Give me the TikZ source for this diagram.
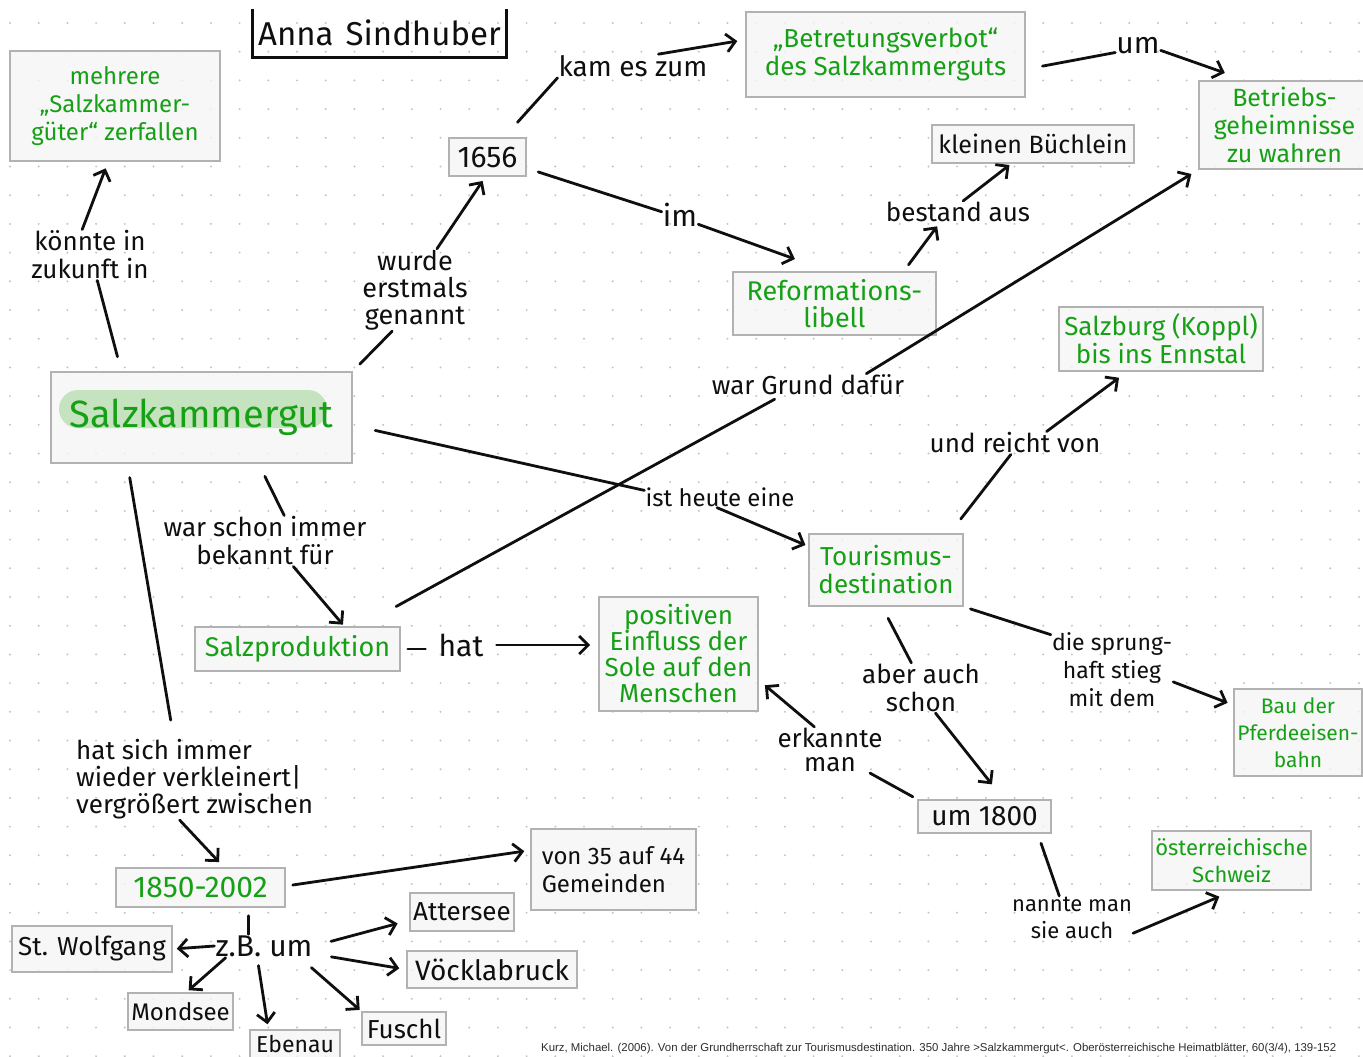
\documentclass[tikz,border=0pt]{standalone}
\usepackage{fontspec}
\setmainfont{Fira Sans}
\newfontfamily\citefont{Liberation Sans}
\usepackage{xcolor}
\usepackage{tikz}
\usetikzlibrary{arrows.meta,calc}

\definecolor{hwgreen}{RGB}{22,160,22}
\definecolor{hwblack}{RGB}{15,15,15}
\definecolor{boxfill}{RGB}{245,245,245}
\definecolor{boxline}{RGB}{178,178,178}
\definecolor{hlgreen}{RGB}{197,227,190}
\definecolor{dotgray}{RGB}{196,196,196}
\definecolor{citegray}{RGB}{45,45,45}

\newcommand{\hwf}[1]{\fontsize{#1}{28}\selectfont}

\tikzset{
  concept/.style={draw=boxline, line width=1.6pt, fill=boxfill, fill opacity=0.8, text opacity=1,
    text=hwgreen, align=center, inner sep=0pt, font=\hwf{26}},
  term/.style={concept, text=hwblack},
  rel/.style={align=center, inner sep=1pt, text=hwblack, font=\hwf{26}},
  link/.style={draw=hwblack, line width=2.8pt, line cap=round},
  linkto/.style={link, -{Straight Barb[length=9pt,width=18pt]}},
  frame/.style={draw=hwblack, line width=2.8pt}
}

\begin{document}
\begin{tikzpicture}[x=1pt,y=-1pt]
\fill[white] (0,0) rectangle (1363,1057);
\useasboundingbox (0,0) rectangle (1363,1057);

% dot grid
\foreach \i in {0,...,47}
  \foreach \j in {0,...,36}
    \fill[dotgray] ({10+28.7*\i},{23+28.7*\j}) circle (1.1);

% title
\node[rel, font=\hwf{33}, minimum width=253, minimum height=48] (title) at (379.5,33) {Anna\hspace{12pt}Sindhuber};
\draw[frame] (title.north west) -- (title.south west) -- (title.south east) -- (title.north east);

% boxes
\node[concept, minimum width=210, minimum height=110, font=\hwf{24}] (zerf) at (115,106) {mehrere\\„Salzkammer-\\güter“ zerfallen};
\node[concept, minimum width=301, minimum height=91, font=\hwf{38},
  path picture={\fill[hlgreen, fill opacity=1, rounded corners=19pt]
    ([shift={(8,18)}]path picture bounding box.north west) rectangle
    ([shift={(276,56)}]path picture bounding box.north west);}] (sk) at (201.5,417.5) {Salzkammergut};
\node[term, minimum width=77, minimum height=38, font=\hwf{30}] (y1656) at (487.5,157) {1656};
\node[concept, minimum width=279, minimum height=85] (verbot) at (885.5,54.5) {„Betretungsverbot“\\des Salzkammerguts};
\node[concept, minimum width=171, minimum height=88, font=\hwf{25}] (geheim) at (1284.5,125) {Betriebs-\\geheimnisse\\zu wahren};
\node[term, minimum width=202, minimum height=38, font=\hwf{25}] (buech) at (1033,144) {kleinen Büchlein};
\node[concept, minimum width=203, minimum height=63, font=\fontsize{27}{27}\selectfont] (reform) at (834.5,303.5) {Reformations-\\libell};
\node[concept, minimum width=204, minimum height=64] (salzbg) at (1161,339) {Salzburg (Koppl)\\bis ins Ennstal};
\node[concept, minimum width=205, minimum height=44, font=\hwf{27}] (prod) at (297.5,649) {Salzproduktion};
\node[concept, minimum width=159, minimum height=114, font=\fontsize{26}{26}\selectfont] (einfl) at (678.5,654) {positiven\\Einfluss der\\Sole auf den\\Menschen};
\node[concept, minimum width=154, minimum height=72] (tour) at (886,570) {Tourismus-\\destination};
\node[concept, minimum width=128, minimum height=87, font=\fontsize{21}{27}\selectfont] (bahn) at (1298,732.5) {Bau der\\Pferdeeisen-\\bahn};
\node[term, minimum width=133, minimum height=33, font=\hwf{28}] (um1800) at (984.5,816.5) {um 1800};
\node[concept, minimum width=159, minimum height=59, font=\fontsize{22}{27}\selectfont] (schweiz) at (1231.5,860.5) {österreichische\\Schweiz};
\node[concept, minimum width=169, minimum height=39, font=\hwf{30}] (jahre) at (200.5,887.5) {1850-2002};
\node[term, minimum width=165, minimum height=81, font=\hwf{24}, align=left] (gem) at (613.5,869.5) {von 35 auf 44\\Gemeinden};
\node[term, minimum width=104, minimum height=38] (atter) at (462,912) {Attersee};
\node[term, minimum width=170, minimum height=37, font=\hwf{28}] (voeck) at (492,969.5) {Vöcklabruck};
\node[term, minimum width=160, minimum height=46] (wolf) at (92,949) {St. Wolfgang};
\node[term, minimum width=105, minimum height=37, font=\hwf{24}] (mond) at (180.5,1011.5) {Mondsee};
\node[term, minimum width=90, minimum height=28, font=\hwf{23}] (eben) at (295,1044) {Ebenau};
\node[term, minimum width=84, minimum height=33] (fuschl) at (404,1028.5) {Fuschl};

% link words
\node[rel] (koennte) at (90,255) {könnte in\\zukunft in};
\node[rel, font=\fontsize{27}{27}\selectfont] (erstm) at (415,290) {wurde\\erstmals\\genannt};
\node[rel, font=\hwf{28}] (kam) at (633,66) {kam es zum};
\node[rel, font=\hwf{30}] (im) at (680,215) {im};
\node[rel] (bestand) at (958,212) {bestand aus};
\node[rel, font=\hwf{30}] (umw) at (1138,46) {um};
\node[rel] (grund) at (808,385) {war Grund dafür};
\node[rel, font=\hwf{24}] (heute) at (720,497) {ist heute eine};
\node[rel] (reicht) at (1015,443) {und reicht von};
\node[rel] (bekannt) at (265,541) {war schon immer\\bekannt für};
\node[rel, font=\hwf{30}] (hat) at (461,645) {hat};
\node[rel] (auch) at (921,688) {aber auch\\schon};
\node[rel, font=\fontsize{23}{28}\selectfont] (sprung) at (1112,670) {die sprung-\\haft stieg\\mit dem};
\node[rel, font=\fontsize{26}{24}\selectfont] (erkannt) at (830,750) {erkannte\\man};
\node[rel, font=\fontsize{22}{27}\selectfont] (nannte) at (1072,918) {nannte man\\sie auch};
\node[rel, align=left, font=\fontsize{26}{27}\selectfont, anchor=west] (zwischen) at (75,779) {hat sich immer\\wieder verkleinert|\\vergrößert zwischen};
\node[rel, font=\hwf{30}] (zb) at (264,946) {z.B. um};

% source
\node[anchor=west, inner sep=0pt, text=citegray, font=\citefont\fontsize{11.4}{13}\selectfont] (quelle) at (541,1049)
  {Kurz, Michael. (2006). Von der Grundherrschaft zur Tourismusdestination. 350 Jahre >Salzkammergut<. Oberösterreichische Heimatblätter, 60(3/4), 139-152};

% connectors
\draw[link, shorten <=15] (sk.150) -- (koennte.286);
\draw[linkto, shorten >=7] (koennte.107) -- (zerf.263);
\draw[link, shorten <=10] (sk.north east) -- (erstm.241);
\draw[linkto, shorten >=5] (erstm.62) -- (y1656.264);
\draw[link, shorten <=20] (y1656.50) -- (kam.south west);
\draw[linkto, shorten >=8] (kam.25) -- (verbot.174);
\draw[link, shorten <=12] (y1656.344) -- (im.170);
\draw[linkto, shorten >=36] (im.333) -- (reform.100);
\draw[linkto, shorten <=8, shorten >=4] (reform.25) -- (bestand.211);
\draw[linkto, shorten >=2] (bestand.65) -- (buech.222);
\draw[link, shorten <=17] (verbot.354) -- (umw.196);
\draw[linkto, shorten >=22] (umw.349) -- (geheim.131);
\draw[link, shorten <=41, shorten >=6] (prod.20) -- (grund.202);
\draw[linkto, shorten >=8] (grund.11) -- (geheim.south west);
\draw[link, shorten <=23] (sk.357) -- (heute.175);
\draw[linkto, shorten >=3] (heute.255) -- (tour.163);
\draw[link, shorten <=18] (tour.30) -- (reicht.250);
\draw[linkto, shorten >=10] (reicht.20) -- (salzbg.224);
\draw[link, shorten <=14] (sk.321) -- (bekannt.53);
\draw[linkto, shorten >=2] (bekannt.318) -- (prod.26);
\draw[link, shorten <=7, shorten >=12] (prod.east) -- (prod.east -| hat.west);
\draw[linkto, shorten <=12, shorten >=8] (hat.east) -- (hat.east -| einfl.west);
\draw[link, shorten <=13] (tour.264) -- (auch.111);
\draw[linkto, shorten >=19] (auch.300) -- (um1800.42);
\draw[link, shorten <=7] (tour.south east) -- (sprung.150);
\draw[linkto, shorten >=6] (sprung.349) -- (bahn.157);
\draw[linkto, shorten >=8] (erkannt.124) -- (einfl.342);
\draw[link, shorten >=5] (erkannt.330) -- (um1800.north west);
\draw[link, shorten <=10] (um1800.342) -- (nannte.120);
\draw[linkto, shorten >=15] (nannte.346) -- (schweiz.273);
\draw[link, shorten <=14, shorten >=18] (sk.212) -- (zwischen.117);
\draw[linkto, shorten >=7] (zwischen.250) -- (jahre.41);
\draw[linkto, shorten <=7, shorten >=6] (jahre.1) -- (gem.167);
\draw[link, shorten <=8] (jahre.337) -- (jahre.337 |- zb.north);
\draw[linkto, shorten >=4] (zb.west) -- (wolf.east);
\draw[linkto, shorten >=3] (zb.197) -- (mond.73);
\draw[linkto, shorten <=8, shorten >=5] (zb.240) -- (eben.151);
\draw[linkto, shorten <=15, shorten >=2] (zb.342) -- (fuschl.north west);
\draw[linkto, shorten <=18, shorten >=12] (zb.east) -- (atter.189);
\draw[linkto, shorten <=18, shorten >=7] (zb.351) -- (voeck.west);
\end{tikzpicture}
\end{document}
